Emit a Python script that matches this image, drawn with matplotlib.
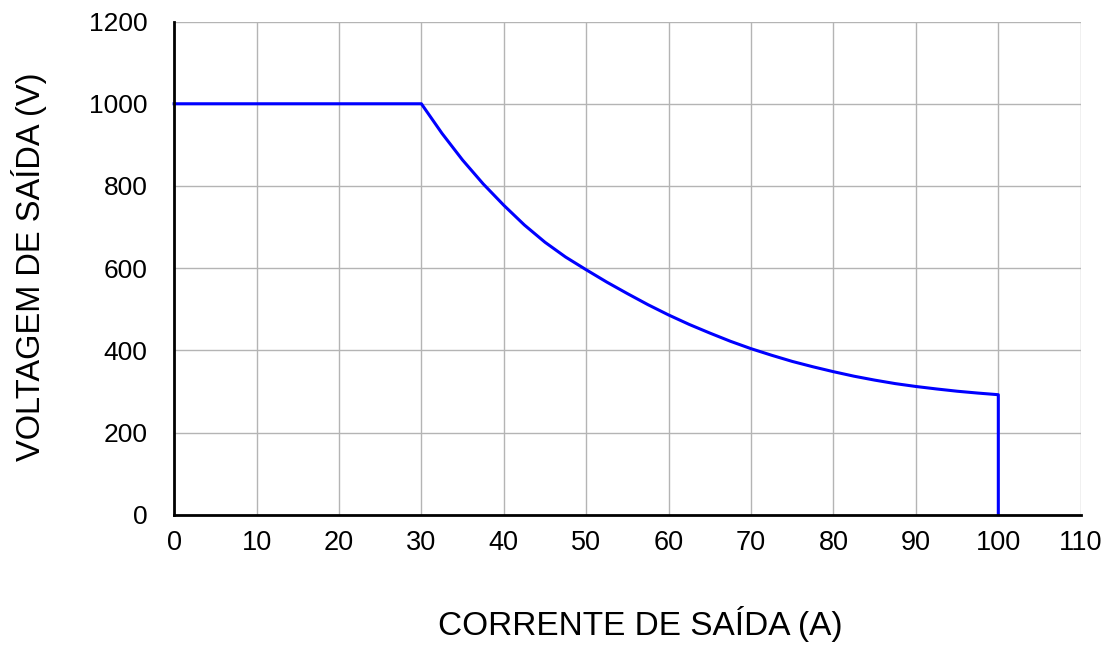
import matplotlib
matplotlib.use("Agg")
import matplotlib.pyplot as plt

# curve (current in A, voltage in V)
corrente = [0, 30, 32.5, 35, 37.5, 40, 42.5, 45, 47.5, 50, 52.5, 55, 57.5, 60,
            62.5, 65, 67.5, 70, 72.5, 75, 77.5, 80, 82.5, 85, 87.5, 90, 92.5,
            95, 97.5, 100, 100]
voltagem = [1000, 1000, 928, 863, 805, 753, 705, 663, 627, 596, 566, 538, 511, 486,
            463, 442, 422, 404, 388, 373, 360, 348, 337, 327.5, 319, 312, 306,
            300.5, 296, 292, 0]

x_ticks = list(range(0, 111, 10))
y_ticks = list(range(0, 1201, 200))

plt.rcParams['font.family'] = ['Liberation Sans', 'DejaVu Sans']

fig = plt.figure(figsize=(11.02, 6.54), dpi=100)
ax = fig.add_axes([0.158, 0.213, 0.8227, 0.754])

ax.plot(corrente, voltagem, color='#0000ff', lw=2.2, zorder=3, clip_on=False,
        solid_joinstyle='round')

ax.set_xlim(0, 110)
ax.set_ylim(0, 1200)
ax.set_xticks(x_ticks)
ax.set_yticks(y_ticks)
ax.grid(True, color='#b4b4b4', lw=1.0)
ax.set_axisbelow(True)

for s in ['top', 'right']:
    ax.spines[s].set_visible(False)
for s in ['left', 'bottom']:
    ax.spines[s].set_linewidth(2.0)
    ax.spines[s].set_color('black')
    ax.spines[s].set_zorder(4)

ax.tick_params(axis='x', length=0, pad=11, labelsize=19.5)
ax.tick_params(axis='y', length=0, pad=19, labelsize=19)

fig.text(0.581, 0.046, 'CORRENTE DE SAÍDA (A)', fontsize=24, ha='center', va='center')
fig.text(0.026, 0.592, 'VOLTAGEM DE SAÍDA (V)', fontsize=23.5, ha='center', va='center',
         rotation=90)

fig.savefig('out.png', dpi=100)
